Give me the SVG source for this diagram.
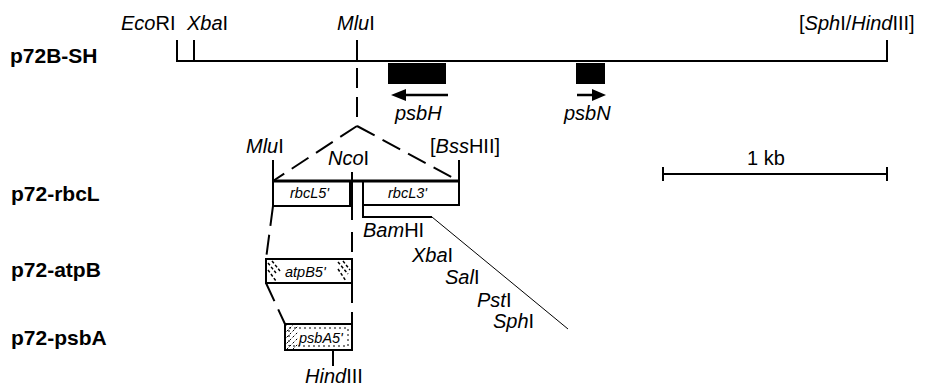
<svg xmlns="http://www.w3.org/2000/svg" width="928" height="386" viewBox="0 0 928 386">
<style>
text{font-family:"Liberation Sans",Arial,sans-serif;fill:#000}
.t{font-size:20px}
.b{font-size:21px;font-weight:bold}
.s{font-size:14.5px;font-style:italic}
.i{font-style:italic}
.ln{stroke:#000;stroke-width:2;fill:none}
.thin{stroke:#000;stroke-width:1;fill:none}
.dash{stroke:#000;stroke-width:2;fill:none;stroke-dasharray:20 9}
.box{fill:#fff;stroke:#000;stroke-width:2}
.htc{stroke:#000;stroke-width:1.5;fill:none;stroke-dasharray:3 2}
</style>
<defs>
<pattern id="hatch2" width="6" height="6" patternUnits="userSpaceOnUse">
<path d="M6,0 L0,6" stroke="#000" stroke-width="1" stroke-dasharray="2 2"/>
</pattern>
</defs>

<g id="p72B-SH">
<text class="b" x="10" y="63">p72B-SH</text>
<path class="ln" d="M177,40 V61 H887 V40 M194,40 V61 M357,40 V61"/>
<text class="t" x="121" y="30"><tspan class="i">Eco</tspan>RI</text>
<text class="t" x="187" y="30"><tspan class="i">Xba</tspan>I</text>
<text class="t" x="337" y="30"><tspan class="i">Mlu</tspan>I</text>
<text class="t" x="799" y="30">[<tspan class="i">Sph</tspan>I/<tspan class="i">Hind</tspan>III]</text>
</g>

<g id="psbH">
<rect x="388" y="63" width="58" height="21" fill="#000"/>
<path d="M448,95 H404" stroke="#000" stroke-width="2.5"/>
<path d="M391,95 L406,89 L406,101 Z" fill="#000"/>
<text class="t i" x="395" y="120">psbH</text>
</g>

<g id="psbN">
<rect x="576" y="63" width="29" height="21" fill="#000"/>
<path d="M577,95 H594" stroke="#000" stroke-width="2.5"/>
<path d="M606,95 L592,89 L592,101 Z" fill="#000"/>
<text class="t i" x="564" y="120">psbN</text>
</g>

<g id="scale">
<path class="ln" d="M663,174 H887 M663,167 V181 M887,167 V181"/>
<text class="t" x="747" y="165">1 kb</text>
</g>

<g id="p72-rbcL">
<text class="b" x="11" y="201">p72-rbcL</text>
<rect class="box" x="273" y="181" width="77" height="25"/>
<rect class="box" x="363" y="181" width="96" height="24"/>
<path d="M273,181 H459" stroke="#000" stroke-width="3"/>
<path class="ln" d="M273,160 V181 M459,160 V181 M352,172 V220"/>
<text class="s" x="290" y="198">rbcL5'</text>
<text class="s" x="388" y="198">rbcL3'</text>
<text class="t" x="246" y="153"><tspan class="i">Mlu</tspan>I</text>
<text class="t" x="328" y="165"><tspan class="i">Nco</tspan>I</text>
<text class="t" x="430" y="153">[<tspan class="i">Bss</tspan>HII]</text>
</g>

<g id="mcs">
<path class="ln" d="M363,205 V217 H432"/>
<path class="thin" d="M432,217 L568,329"/>
<text class="t" x="363" y="237"><tspan class="i">Bam</tspan>HI</text>
<text class="t" x="412" y="262"><tspan class="i">Xba</tspan>I</text>
<text class="t" x="445" y="284"><tspan class="i">Sal</tspan>I</text>
<text class="t" x="477" y="307"><tspan class="i">Pst</tspan>I</text>
<text class="t" x="493" y="328"><tspan class="i">Sph</tspan>I</text>
</g>

<g id="p72-atpB">
<text class="b" x="11" y="277">p72-atpB</text>
<rect class="box" x="266" y="259" width="86" height="24"/>
<path class="htc" d="M268,263 L276,273 M268,270 L276,281 M272,261 L280,271 M338,262 L348,274 M338,269 L346,281 M343,261 L350,270"/>
<text class="s" x="285" y="277">atpB5'</text>
</g>

<g id="p72-psbA">
<text class="b" x="11" y="345">p72-psbA</text>
<rect class="box" x="285" y="324" width="67" height="26"/>
<rect x="289" y="328" width="59" height="18" fill="none" stroke="#000" stroke-width="1" stroke-dasharray="2 3"/>
<rect x="286" y="325" width="12" height="24" fill="url(#hatch2)"/>
<path class="ln" d="M333,350 V366"/>
<text class="s" x="299" y="343">psbA5'</text>
<text class="t" x="305" y="383"><tspan class="i">Hind</tspan>III</text>
</g>

<g id="connectors">
<path class="dash" d="M357,68 V126"/>
<path class="dash" d="M357,126 L273,181"/>
<path class="dash" d="M357,126 L459,181"/>
<path class="dash" d="M273,206 L266,259"/>
<path class="dash" d="M352,232 V259"/>
<path class="dash" d="M266,283 L285,324"/>
<path class="dash" d="M352,283 V324"/>
</g>
</svg>
